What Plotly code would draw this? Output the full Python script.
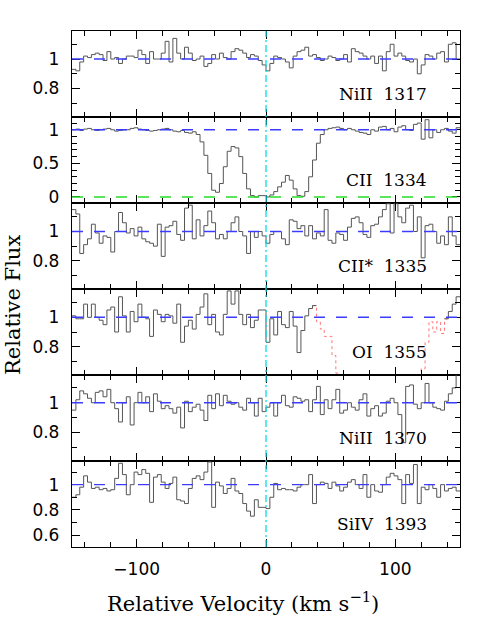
import numpy as np
import plotly.graph_objects as go
from plotly.subplots import make_subplots

# ---------------- data ----------------
BIN_WIDTH = 3.0
V_START = -150.0
N_BINS = 100
velocity_edges = V_START + BIN_WIDTH * np.arange(N_BINS + 1)   # bin edges, km/s

lines = ["NiII\u00a0\u00a01317", "CII\u00a0\u00a01334", "CII*\u00a0\u00a01335",
         "OI\u00a0\u00a01355", "NiII\u00a0\u00a01370", "SiIV\u00a0\u00a01393"]

flux_NiII1317 = [0.93, 0.92, 0.98, 1.02, 1.01, 1.03, 1.04, 1.03, 0.99, 1.05,
                 1.00, 1.01, 0.97, 1.00, 1.02, 1.02, 1.01, 1.06, 1.03, 0.97,
                 1.05, 1.00, 1.00, 1.04, 1.12, 0.98, 1.14, 1.04, 1.00, 1.08,
                 1.04, 0.99, 1.00, 1.02, 0.95, 0.97, 1.03, 1.00, 1.04, 1.01,
                 1.00, 1.05, 1.07, 1.06, 1.04, 1.01, 1.03, 1.02, 0.99, 0.96,
                 0.92, 0.97, 1.02, 1.01, 1.00, 0.98, 0.94, 1.02, 1.05, 1.06,
                 1.08, 1.02, 1.03, 1.01, 0.99, 1.00, 1.02, 1.01, 0.99, 1.00,
                 1.03, 0.98, 1.07, 1.05, 1.04, 1.02, 1.00, 1.02, 0.97, 1.02,
                 0.92, 1.05, 1.10, 1.02, 1.04, 1.02, 0.99, 0.98, 1.00, 0.90,
                 0.96, 1.03, 1.02, 1.00, 1.04, 1.05, 0.98, 1.10, 1.11, 1.00]

flux_CII1334 = [1.00, 1.01, 0.99, 1.01, 1.02, 1.00, 0.99, 1.00, 1.01, 1.02,
                1.00, 0.98, 0.99, 1.00, 1.00, 1.02, 1.03, 1.01, 1.00, 0.99,
                0.98, 0.99, 1.00, 1.01, 1.02, 1.00, 0.98, 0.97, 0.99, 0.96,
                0.95, 0.97, 0.93, 0.82, 0.62, 0.35, 0.10, 0.07, 0.20, 0.45,
                0.68, 0.75, 0.73, 0.60, 0.35, 0.12, 0.02, 0.00, 0.02, 0.02,
                0.00, 0.03, 0.08, 0.15, 0.22, 0.32, 0.25, 0.12, 0.02, 0.01,
                0.08, 0.30, 0.55, 0.80, 0.93, 1.00, 1.02, 1.03, 1.04, 1.02,
                1.00, 1.02, 1.00, 0.98, 0.96, 0.95, 0.93, 1.00, 0.98, 1.04,
                1.05, 1.00, 1.02, 0.97, 1.04, 1.06, 1.00, 0.99, 1.08, 1.10,
                0.86, 1.15, 0.88, 1.00, 0.96, 1.00, 1.02, 0.98, 0.95, 1.03]

flux_CIIs1335 = [1.15, 1.12, 0.85, 0.91, 0.95, 1.05, 0.99, 0.92, 0.97, 0.96,
                 0.86, 1.00, 1.13, 1.06, 0.99, 1.02, 0.97, 1.03, 0.95, 0.93,
                 0.92, 0.90, 1.05, 0.83, 1.03, 1.04, 1.07, 0.98, 0.94, 1.16,
                 1.18, 0.95, 1.08, 0.97, 1.04, 1.14, 1.06, 0.95, 0.98, 0.95,
                 1.00, 1.06, 1.10, 1.00, 0.97, 0.85, 1.00, 0.96, 1.00, 0.97,
                 0.92, 0.98, 1.00, 1.00, 0.95, 0.91, 1.08, 1.07, 1.02, 1.04,
                 0.97, 1.04, 0.95, 0.99, 0.97, 1.15, 0.94, 0.92, 0.99, 0.98,
                 0.94, 1.03, 1.09, 1.10, 1.06, 0.98, 0.96, 1.04, 1.05, 1.10,
                 1.15, 1.19, 0.99, 1.19, 1.10, 1.06, 1.16, 1.18, 1.00, 1.10,
                 0.82, 1.04, 1.05, 1.00, 0.92, 0.97, 0.91, 1.10, 0.97, 0.91]

flux_OI1355 = [1.01, 0.99, 0.99, 1.09, 1.00, 1.09, 1.00, 0.98, 0.95, 1.05,
               1.07, 0.90, 1.14, 1.01, 0.90, 1.04, 0.97, 1.09, 1.00, 0.99,
               0.87, 1.05, 1.02, 0.97, 1.02, 1.01, 0.96, 1.09, 0.83, 0.94,
               0.98, 0.92, 1.02, 1.07, 1.16, 0.95, 1.02, 0.90, 0.88, 1.02,
               1.18, 1.09, 1.18, 1.02, 0.95, 1.02, 0.93, 0.98, 1.05, 1.05,
               0.83, 0.99, 0.88, 1.04, 0.95, 0.93, 1.04, 0.94, 0.76, 0.91,
               1.01, 1.06, 1.08, 0.97, 0.92, 0.87, 0.87, 0.74, 0.62, 0.45,
               0.30, 0.20, 0.15, 0.10, 0.08, 0.05, 0.05, 0.04, 0.05, 0.06,
               0.08, 0.10, 0.12, 0.15, 0.18, 0.22, 0.26, 0.30, 0.35, 0.40,
               0.65, 0.83, 0.97, 0.90, 0.97, 0.89, 0.99, 1.04, 1.09, 1.14]
# bins of OI 1355 affected by a blend (drawn dotted red): first and last index
OI_BLEND_BINS = (63, 96)

flux_NiII1370 = [0.95, 1.02, 1.08, 1.06, 1.03, 1.00, 1.07, 1.08, 1.04, 1.09,
                 1.00, 0.96, 0.87, 1.00, 1.04, 0.85, 1.00, 1.07, 1.00, 1.04,
                 0.94, 1.06, 1.01, 0.96, 0.98, 0.96, 0.93, 0.97, 0.83, 1.01,
                 0.94, 0.97, 0.99, 0.95, 0.88, 1.05, 0.96, 1.06, 0.98, 1.05,
                 1.01, 0.99, 1.00, 0.97, 0.95, 1.03, 1.00, 0.91, 1.03, 0.94,
                 0.97, 1.00, 0.91, 1.00, 1.05, 0.98, 0.97, 1.04, 1.03, 1.01,
                 1.02, 0.94, 1.02, 1.11, 0.92, 1.02, 0.96, 1.02, 1.09, 0.93,
                 0.95, 1.00, 0.97, 0.95, 1.02, 1.06, 0.91, 0.96, 0.98, 0.91,
                 0.93, 1.01, 1.03, 1.00, 0.92, 0.73, 1.11, 1.12, 0.99, 0.96,
                 1.00, 1.13, 1.00, 0.97, 0.96, 0.95, 1.01, 1.06, 1.10, 1.19]

flux_SiIV1393 = [0.90, 0.92, 0.98, 1.07, 1.02, 0.97, 0.98, 0.96, 0.97, 0.95,
                 0.96, 1.05, 1.17, 1.08, 0.92, 1.00, 1.10, 1.08, 1.12, 1.09,
                 0.86, 1.06, 1.08, 1.02, 0.97, 1.01, 1.06, 0.88, 0.87, 0.85,
                 0.97, 1.05, 1.07, 1.04, 1.10, 1.18, 0.82, 1.02, 0.99, 0.93,
                 0.97, 1.05, 0.95, 0.93, 0.85, 0.79, 0.75, 0.88, 0.82, 0.82,
                 0.81, 0.90, 1.01, 0.96, 0.97, 0.96, 0.96, 0.95, 0.98, 1.00,
                 1.00, 1.08, 0.85, 1.00, 1.02, 1.01, 0.97, 1.02, 0.99, 0.95,
                 0.98, 1.02, 1.04, 1.00, 0.97, 1.08, 0.90, 1.00, 0.95, 0.94,
                 1.00, 1.06, 1.09, 1.07, 1.04, 0.85, 1.08, 1.01, 1.16, 0.85,
                 0.98, 0.96, 1.00, 0.97, 0.90, 1.00, 0.95, 0.97, 0.98, 0.95]

fluxes = [flux_NiII1317, flux_CII1334, flux_CIIs1335,
          flux_OI1355, flux_NiII1370, flux_SiIV1393]

y_ranges = [[0.607, 1.19], [-0.09, 1.19], [0.607, 1.195],
            [0.607, 1.193], [0.607, 1.187], [0.505, 1.188]]
y_dticks = [0.2, 0.5, 0.2, 0.2, 0.2, 0.2]

CONTINUUM = 1.0
ZERO_LEVEL = 0.0
SYSTEMIC_VELOCITY = 0.0
x_range = [-150, 150]
x_tickvals = [-100, 0, 100]

# ---------------- figure ----------------
fig = make_subplots(rows=6, cols=1, shared_xaxes=True, vertical_spacing=0)

DATA_COLOR = "#555555"
BLUE = "rgb(60,60,255)"
GREEN = "rgb(40,220,40)"
CYAN = "rgb(0,225,230)"
RED = "rgb(255,120,120)"
DASH = "11px,11px"


def step_xy(i0, i1, flux):
    """x/y for an 'hv' step line covering bins i0..i1 (inclusive)."""
    xs = list(velocity_edges[i0:i1 + 2])
    ys = list(flux[i0:i1 + 1]) + [flux[i1]]
    return xs, ys


for k, flux in enumerate(fluxes):
    row = k + 1
    if k == 3:
        b0, b1 = OI_BLEND_BINS
        xs, ys = step_xy(b0 - 1, b1, flux)
        fig.add_trace(go.Scatter(x=xs, y=ys, mode="lines", line_shape="hv",
                                 line=dict(color=RED, width=1, dash="dot"),
                                 showlegend=False, hoverinfo="skip"), row=row, col=1)
        for a, b in [(0, b0 - 1), (b1, N_BINS - 1)]:
            xs, ys = step_xy(a, b, flux)
            fig.add_trace(go.Scatter(x=xs, y=ys, mode="lines", line_shape="hv",
                                     line=dict(color=DATA_COLOR, width=1),
                                     showlegend=False, hoverinfo="skip"), row=row, col=1)
    else:
        xs, ys = step_xy(0, N_BINS - 1, flux)
        fig.add_trace(go.Scatter(x=xs, y=ys, mode="lines", line_shape="hv",
                                 line=dict(color=DATA_COLOR, width=1),
                                 showlegend=False, hoverinfo="skip"), row=row, col=1)

AX_FONT = dict(family="DejaVu Sans", size=17, color="black")

for k in range(6):
    row = k + 1
    sfx = "" if row == 1 else str(row)
    fig.update_xaxes(
        range=x_range, tickmode="array", tickvals=x_tickvals,
        ticks="inside", ticklen=8, tickwidth=1, tickcolor="black",
        showline=True, linecolor="black", linewidth=1.3, mirror="allticks",
        minor=dict(dtick=20, tick0=0, ticks="inside", ticklen=4.5,
                   tickwidth=1, tickcolor="black"),
        showgrid=False, zeroline=False, tickfont=AX_FONT,
        showticklabels=(row == 6), ticklabelstandoff=6,
        row=row, col=1)
    fig.update_yaxes(
        range=y_ranges[k], tickmode="linear", tick0=0, dtick=y_dticks[k],
        ticks="inside", ticklen=8, tickwidth=1, tickcolor="black",
        showline=True, linecolor="black", linewidth=1.3, mirror="allticks",
        minor=dict(dtick=0.1, tick0=0, ticks="inside", ticklen=4.5,
                   tickwidth=1, tickcolor="black"),
        showgrid=False, zeroline=False, tickfont=AX_FONT,
        ticklabelstandoff=8,
        row=row, col=1)

    # continuum level
    fig.add_shape(type="line", xref=f"x{sfx} domain", yref=f"y{sfx}",
                  x0=0, x1=1, y0=CONTINUUM, y1=CONTINUUM,
                  line=dict(color=BLUE, width=1.4, dash=DASH))
    if k == 1:
        fig.add_shape(type="line", xref=f"x{sfx} domain", yref=f"y{sfx}",
                      x0=0, x1=1, y0=ZERO_LEVEL, y1=ZERO_LEVEL,
                      line=dict(color=GREEN, width=1.4, dash=DASH))
    # transition label
    fig.add_annotation(text=lines[k], xref=f"x{sfx} domain", yref=f"y{sfx} domain",
                       x=0.92, y=0.265, xanchor="right", yanchor="middle",
                       showarrow=False,
                       font=dict(family="DejaVu Serif", size=17, color="black"))

# systemic velocity marker through all panels
fig.add_shape(type="line", xref="x", yref="paper",
              x0=SYSTEMIC_VELOCITY, x1=SYSTEMIC_VELOCITY, y0=0, y1=1,
              line=dict(color=CYAN, width=1.3, dash="7px,3px,2px,3px"))

# axis titles
fig.add_annotation(text="Relative Velocity (km s<sup>\u22121</sup>)",
                   xref="paper", yref="paper", x=(242.5 - 72) / 388, y=-0.107,
                   xanchor="center", yanchor="middle", showarrow=False,
                   font=dict(family="DejaVu Serif", size=21, color="black"))
fig.add_annotation(text="Relative Flux", textangle=-90,
                   xref="paper", yref="paper", x=-0.152, y=0.469,
                   xanchor="center", yanchor="middle", showarrow=False,
                   font=dict(family="DejaVu Serif", size=21, color="black"))

fig.update_layout(
    width=485, height=623,
    margin=dict(l=72, r=25, t=31, b=76),
    paper_bgcolor="white", plot_bgcolor="white",
    showlegend=False,
)

fig.write_html("out.html",
               config={"displayModeBar": False},
               post_script="document.body.style.margin='0px';"
                           "document.body.style.padding='0px';")
